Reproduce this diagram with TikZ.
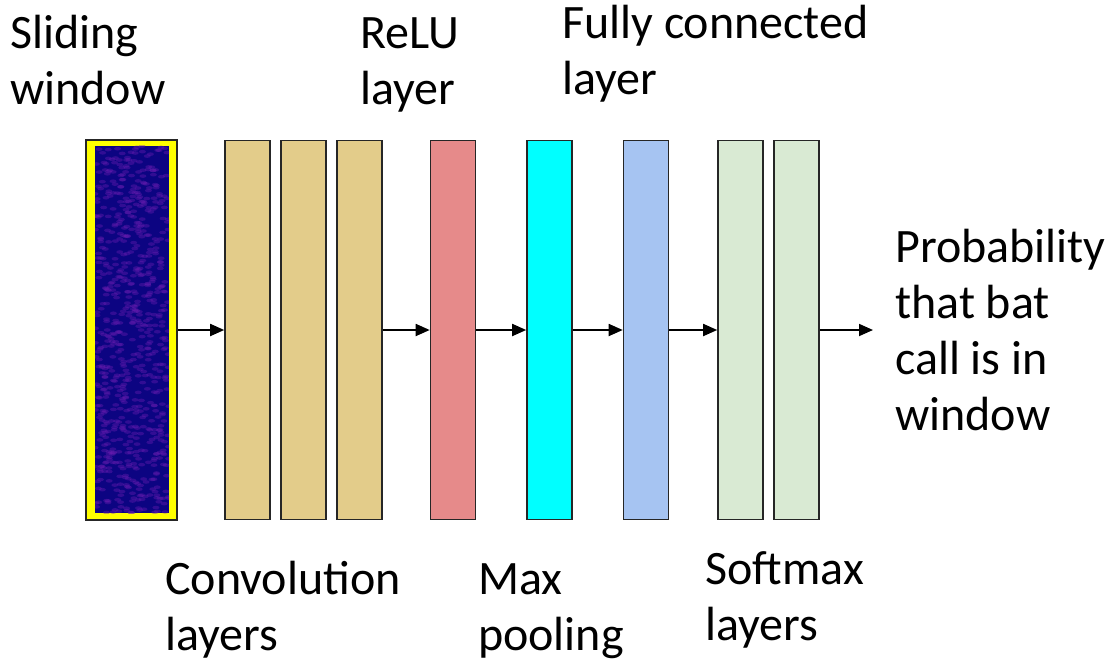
\documentclass[tikz,border=0pt]{standalone}
\usepackage{fontspec}
\setmainfont{Carlito}
\usetikzlibrary{arrows.meta}
\definecolor{convc}{HTML}{E3CC8A}
\definecolor{reluc}{HTML}{E68A8A}
\definecolor{poolc}{HTML}{00FFFF}
\definecolor{fcc}{HTML}{A6C4F2}
\definecolor{softc}{HTML}{D9EAD3}
\definecolor{navyc}{HTML}{0C0482}
\definecolor{specc}{HTML}{6A1CB0}
\definecolor{yelc}{HTML}{FFFF00}
\begin{document}
\begin{tikzpicture}[x=1pt,y=-1pt,
  layerbox/.style={draw=black!85,line width=1.6pt,minimum width=45pt,minimum height=379pt,inner sep=0pt},
  arr/.style={line width=1.8pt,-{Triangle[length=14pt,width=12pt]}},
  lbl/.style={inner sep=0pt,anchor=base west,align=left,font=\fontsize{48}{56}\selectfont}]
\useasboundingbox (0,0) rectangle (1108,666);
% sliding window
\node[draw=black!85,line width=1.6pt,fill=yelc,minimum width=91pt,minimum height=380pt,inner sep=0pt] (sw) at (131.5,330) {};
\fill[navyc] (95,146) rectangle (169,513);
\begin{scope}
\clip (95,146) rectangle (169,513);
\pgfmathsetseed{7}
\foreach \i in {1,...,700}{
  \pgfmathsetmacro\rx{95+74*rnd}
  \pgfmathsetmacro\ry{146+367*rnd}
  \fill[specc,opacity=0.4] (\rx,\ry) ellipse (3.5pt and 1.8pt);
}
\end{scope}
% layers
\node[layerbox,fill=convc] (c1) at (247.5,330) {};
\node[layerbox,fill=convc] (c2) at (303.5,330) {};
\node[layerbox,fill=convc] (c3) at (359.5,330) {};
\node[layerbox,fill=reluc] (relu) at (453,330) {};
\node[layerbox,fill=poolc] (pool) at (549.5,330) {};
\node[layerbox,fill=fcc] (fc) at (646,330) {};
\node[layerbox,fill=softc] (s1) at (740.5,330) {};
\node[layerbox,fill=softc] (s2) at (796.5,330) {};
\coordinate (out) at (873,330);
% arrows
\draw[arr] (sw.east) -- (c1.west);
\draw[arr] (c3.east) -- (relu.west);
\draw[arr] (relu.east) -- (pool.west);
\draw[arr] (pool.east) -- (fc.west);
\draw[arr] (fc.east) -- (s1.west);
\draw[arr] (s2.east) -- (out);
% labels (anchor = baseline of last line)
\node[lbl] (tsw) at (10,105) {Sliding\\window};
\node[lbl] (trelu) at (360,105) {ReLU\\layer};
\node[lbl] (tfc) at (562,95) {Fully connected\\layer};
\node[lbl] (tprob) at (895,430) {Probability\\that bat\\call is in\\window};
\node[lbl] (tconv) at (165,650) {Convolution\\layers};
\node[lbl] (tpool) at (478,650) {Max\\pooling};
\node[lbl] (tsoft) at (705,640) {Softmax\\layers};
\end{tikzpicture}
\end{document}
